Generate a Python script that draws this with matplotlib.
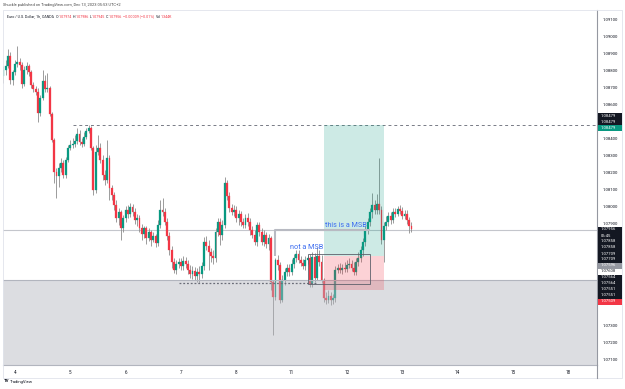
import matplotlib
matplotlib.use('Agg')
import matplotlib.pyplot as plt
from matplotlib.patches import Rectangle

plt.rcParams['font.family'] = ['Roboto', 'DejaVu Sans']

# ---------------- data (EUR/USD 1h, OANDA) ----------------
first_bar = -5          # bar index of first candle (0 = Dec 4 00:00)
first_open = 1.08767
close = [1.08802, 1.08826, 1.08885, 1.08743, 1.08790, 1.08837, 1.08849, 1.08832, 1.08719, 1.08802,
         1.08826, 1.08790, 1.08714, 1.08690, 1.08673, 1.08549, 1.08638, 1.08737, 1.08690, 1.08696,
         1.08543, 1.08391, 1.08202, 1.08179, 1.08226, 1.08255, 1.08185, 1.08273, 1.08344, 1.08362,
         1.08367, 1.08385, 1.08425, 1.08379, 1.08367, 1.08408, 1.08443, 1.08461, 1.08344, 1.08096,
         1.08320, 1.08344, 1.08273, 1.08185, 1.08155, 1.08285, 1.08108, 1.08067, 1.08009, 1.07932,
         1.07967, 1.07873, 1.07932, 1.07979, 1.07955, 1.07997, 1.07967, 1.07920, 1.07932, 1.07873,
         1.07837, 1.07873, 1.07814, 1.07849, 1.07802, 1.07826, 1.07784, 1.07891, 1.07979, 1.07967,
         1.07908, 1.07826, 1.07744, 1.07673, 1.07626, 1.07661, 1.07673, 1.07650, 1.07679, 1.07661,
         1.07626, 1.07602, 1.07620, 1.07591, 1.07614, 1.07602, 1.07650, 1.07790, 1.07767, 1.07732,
         1.07708, 1.07697, 1.07849, 1.07908, 1.07832, 1.07891, 1.08137, 1.08061, 1.07991, 1.07967,
         1.07979, 1.07932, 1.07955, 1.07908, 1.07891, 1.07932, 1.07908, 1.07861, 1.07832, 1.07790,
         1.07891, 1.07849, 1.07790, 1.07832, 1.07779, 1.07814, 1.07555, 1.07467, 1.07685, 1.07655,
         1.07449, 1.07567, 1.07614, 1.07638, 1.07614, 1.07661, 1.07697, 1.07720, 1.07685, 1.07667,
         1.07650, 1.07685, 1.07697, 1.07543, 1.07702, 1.07579, 1.07708, 1.07673, 1.07567, 1.07461,
         1.07449, 1.07473, 1.07449, 1.07461, 1.07626, 1.07638, 1.07626, 1.07638, 1.07632, 1.07655,
         1.07661, 1.07638, 1.07614, 1.07673, 1.07697, 1.07744, 1.07790, 1.07861, 1.07908, 1.07967,
         1.08009, 1.07979, 1.08014, 1.07979, 1.07802, 1.07885, 1.07908, 1.07944, 1.07920, 1.07967,
         1.07955, 1.07985, 1.07973, 1.07944, 1.07955, 1.07920, 1.07885, 1.07867]
high = [1.08826, 1.08861, 1.08926, 1.08908, 1.08802, 1.08861, 1.08944, 1.08873, 1.08849, 1.08826,
        1.08849, 1.08837, 1.08802, 1.08731, 1.08708, 1.08696, 1.08656, 1.08802, 1.08773, 1.08784,
        1.08708, 1.08555, 1.08402, 1.08226, 1.08255, 1.08285, 1.08273, 1.08291, 1.08362, 1.08391,
        1.08402, 1.08420, 1.08461, 1.08449, 1.08402, 1.08437, 1.08461, 1.08479, 1.08470, 1.08356,
        1.08362, 1.08420, 1.08373, 1.08303, 1.08214, 1.08391, 1.08303, 1.08126, 1.08084, 1.08038,
        1.07991, 1.07979, 1.07950, 1.08003, 1.08009, 1.08020, 1.08014, 1.07991, 1.07955, 1.07950,
        1.07897, 1.07885, 1.07885, 1.07873, 1.07861, 1.07849, 1.07837, 1.07920, 1.08038, 1.08049,
        1.07991, 1.07932, 1.07849, 1.07767, 1.07697, 1.07685, 1.07697, 1.07697, 1.07708, 1.07702,
        1.07685, 1.07655, 1.07650, 1.07644, 1.07638, 1.07650, 1.07673, 1.07820, 1.07826, 1.07802,
        1.07755, 1.07744, 1.07873, 1.07932, 1.07932, 1.07920, 1.08173, 1.08155, 1.08084, 1.08014,
        1.08009, 1.08003, 1.07979, 1.07973, 1.07932, 1.07955, 1.07961, 1.07932, 1.07885, 1.07861,
        1.07908, 1.07908, 1.07873, 1.07861, 1.07849, 1.07837, 1.07826, 1.07567, 1.07697, 1.07714,
        1.07673, 1.07596, 1.07638, 1.07661, 1.07661, 1.07691, 1.07720, 1.07744, 1.07744, 1.07708,
        1.07691, 1.07708, 1.07714, 1.07720, 1.07732, 1.07726, 1.07761, 1.07744, 1.07714, 1.07579,
        1.07496, 1.07508, 1.07496, 1.07485, 1.07650, 1.07661, 1.07667, 1.07661, 1.07673, 1.07685,
        1.07697, 1.07685, 1.07673, 1.07697, 1.07732, 1.07767, 1.07814, 1.07885, 1.07932, 1.07991,
        1.08079, 1.08038, 1.08073, 1.08285, 1.08003, 1.07908, 1.07944, 1.07967, 1.07967, 1.07991,
        1.07991, 1.08003, 1.08009, 1.07997, 1.07979, 1.07979, 1.07938, 1.07908]
low = [1.08725, 1.08773, 1.08814, 1.08719, 1.08714, 1.08773, 1.08820, 1.08802, 1.08696, 1.08708,
       1.08778, 1.08767, 1.08696, 1.08673, 1.08656, 1.08496, 1.08532, 1.08626, 1.08673, 1.08673,
       1.08532, 1.08379, 1.08137, 1.08049, 1.08114, 1.08202, 1.08167, 1.08167, 1.08261, 1.08332,
       1.08344, 1.08350, 1.08367, 1.08362, 1.08350, 1.08356, 1.08396, 1.08431, 1.08332, 1.08067,
       1.08078, 1.08303, 1.08255, 1.08155, 1.08126, 1.08137, 1.08038, 1.08038, 1.07979, 1.07908,
       1.07891, 1.07802, 1.07849, 1.07908, 1.07932, 1.07938, 1.07944, 1.07897, 1.07885, 1.07849,
       1.07802, 1.07814, 1.07778, 1.07796, 1.07767, 1.07790, 1.07761, 1.07767, 1.07873, 1.07944,
       1.07891, 1.07802, 1.07714, 1.07638, 1.07608, 1.07602, 1.07638, 1.07626, 1.07626, 1.07638,
       1.07602, 1.07579, 1.07573, 1.07567, 1.07555, 1.07549, 1.07579, 1.07626, 1.07744, 1.07626,
       1.07673, 1.07661, 1.07673, 1.07826, 1.07773, 1.07802, 1.07873, 1.08038, 1.07967, 1.07950,
       1.07944, 1.07908, 1.07891, 1.07885, 1.07873, 1.07873, 1.07885, 1.07832, 1.07814, 1.07773,
       1.07767, 1.07826, 1.07773, 1.07767, 1.07755, 1.07744, 1.07508, 1.07244, 1.07449, 1.07626,
       1.07432, 1.07438, 1.07538, 1.07591, 1.07591, 1.07596, 1.07638, 1.07673, 1.07667, 1.07650,
       1.07632, 1.07626, 1.07661, 1.07526, 1.07526, 1.07555, 1.07567, 1.07650, 1.07549, 1.07438,
       1.07426, 1.07432, 1.07420, 1.07426, 1.07438, 1.07608, 1.07608, 1.07602, 1.07614, 1.07614,
       1.07638, 1.07620, 1.07596, 1.07596, 1.07650, 1.07673, 1.07708, 1.07767, 1.07837, 1.07885,
       1.07932, 1.07955, 1.07955, 1.07955, 1.07778, 1.07673, 1.07861, 1.07885, 1.07897, 1.07903,
       1.07938, 1.07944, 1.07955, 1.07926, 1.07926, 1.07897, 1.07843, 1.07849]

day_ticks = [0, 24, 48, 72, 96, 120, 144, 168, 192, 216, 240]
day_labels = ['4', '5', '6', '7', '8', '11', '12', '13', '14', '15', '18']
price_ticks = [1.091, 1.090, 1.089, 1.088, 1.087, 1.086, 1.084, 1.083, 1.082,
               1.081, 1.080, 1.079, 1.073, 1.072, 1.071]

# drawings
target_price = 1.08479
entry_price = 1.07709
stop_price = 1.07509
position_bars = (134, 160)
msb_level = 1.07858
msb_box = (113, 154, 1.07709, 1.07858)
inner_box = (127, 154, 1.07540, 1.07720)
zone_top = 1.07564
swing_low_level = 1.07551
swing_low_bars = (71, 131)
high_line_start = 25
header_title = 'Euro / U.S. Dollar, 1h, OANDA'
header_values = ['1.07974', '1.07986', '1.07945', '1.07956']
change_text = '\u22120.00009 (\u22120.01%)'
volume_text = '1.344K'

# price-scale labels: (rows, background, text colour)
scale_boxes_top = [(['1.08479', '1.08479'], '#131722', 'white'),
                   (['1.08479'], '#089981', 'white')]
scale_boxes_low = [(['1.07956', '06:45'], '#131722', 'white'),
                   (['1.07858', '1.07858'], '#131722', 'white'),
                   (['1.07709', '1.07709'], '#131722', 'white'),
                   (['1.07596'], '#9598a1', 'white'),
                   (['1.07608'], '#ffffff', '#131722'),
                   (['1.07564', '1.07564'], '#131722', 'white'),
                   (['1.07551', '1.07551'], '#131722', 'white'),
                   (['1.07509'], '#f23645', 'white')]

# ---------------- figure ----------------
W, H = 625, 389
fig = plt.figure(figsize=(W / 100, H / 100), dpi=100)
fig.patch.set_facecolor('white')

def fx(px):
    return px / W

def fy(py):
    return 1 - py / H

ax = fig.add_axes([fx(3), fy(365), fx(594), 355 / H])
ax.set_xlim(-5.2, 252.5)
ax.set_ylim(1.07066, 1.09155)
ax.set_facecolor('white')

UP, DOWN, WICK = '#089981', '#f23645', '#8c8c8c'
opens = [first_open] + close[:-1]
xs = list(range(first_bar, first_bar + len(close)))
for x, o, h, l, c in zip(xs, opens, high, low, close):
    col = UP if c >= o else DOWN
    ax.vlines(x, l, h, color=WICK, lw=0.6, zorder=2)
    ax.bar(x, abs(c - o) if abs(c - o) > 0.00002 else 0.00002, bottom=min(o, c),
           width=0.82, color=col, edgecolor=col, lw=0.2, zorder=3)

# drawings
ax.axhspan(1.0700, zone_top, facecolor='#b2b5be', alpha=0.45, lw=0, zorder=4)
ax.axhline(zone_top, color='#b2b5be', lw=0.8, zorder=4)
ax.axhline(msb_level, color='#c4c6cc', lw=0.8, zorder=1)
ax.hlines(target_price, high_line_start, 260, colors='#787b86', lw=0.7,
          linestyles=(0, (3, 3)), zorder=4)
ax.hlines(swing_low_level, swing_low_bars[0], swing_low_bars[1], colors='#6a6d78',
          lw=0.9, linestyles=(0, (1.5, 1.5)), zorder=4)

x0, x1 = position_bars
ax.add_patch(Rectangle((x0, entry_price), x1 - x0, target_price - entry_price,
                       facecolor='#089981', alpha=0.2, lw=0, zorder=5))
ax.add_patch(Rectangle((x0, stop_price), x1 - x0, entry_price - stop_price,
                       facecolor='#f23645', alpha=0.22, lw=0, zorder=5))

bx0, bx1, by0, by1 = msb_box
ax.plot([bx0, bx0, bx1], [by0, by1, by1], color='#b8bac2', lw=1.5, zorder=5,
        solid_capstyle='butt')
ix0, ix1, iy0, iy1 = inner_box
ax.add_patch(Rectangle((ix0, iy0), ix1 - ix0, iy1 - iy0, fill=False,
                       edgecolor='#5d606b', lw=0.6, zorder=5))

ax.text(134.5, 1.07884, 'this is a MSB', color='#3b6cf0', fontsize=5.2,
        va='center', ha='left', zorder=6)
ax.text(119.5, 1.07756, 'not a MSB', color='#3b6cf0', fontsize=5.2,
        va='center', ha='left', zorder=6)

# axes styling
for s in ['top', 'left']:
    ax.spines[s].set_visible(False)
ax.spines['right'].set_color('#9598a1')
ax.spines['right'].set_linewidth(0.8)
ax.spines['bottom'].set_color('#b2b5be')
ax.spines['bottom'].set_linewidth(0.8)
ax.yaxis.tick_right()
ax.set_yticks(price_ticks)
ax.set_yticklabels([f'{p:.5f}' for p in price_ticks])
ax.set_xticks(day_ticks)
ax.set_xticklabels(day_labels)
ax.tick_params(axis='y', length=0, pad=4, labelsize=3.1, labelcolor='#131722')
ax.tick_params(axis='x', length=0, pad=3.5, labelsize=3.3, labelcolor='#131722')

# vertical separator continuing below axis, frame
fig.add_artist(plt.Line2D([fx(597), fx(597)], [fy(365), fy(378)], color='#9598a1',
                          lw=0.8, transform=fig.transFigure))
fig.add_artist(Rectangle((fx(3), fy(378)), fx(619), (378 - 10) / H, fill=False,
                         edgecolor='#e0e3eb', lw=0.6, transform=fig.transFigure))

# price scale boxes
def draw_boxes(boxes, ytop, row_h):
    y = ytop
    for rows, bg, fg in boxes:
        hgt = row_h * len(rows)
        fig.add_artist(Rectangle((fx(598), fy(y + hgt)), fx(24), hgt / H,
                                 facecolor=bg, edgecolor='none', transform=fig.transFigure,
                                 zorder=10))
        for i, r in enumerate(rows):
            fig.text(fx(601), fy(y + row_h * (i + 0.5)), r, color=fg, fontsize=3.0,
                     va='center', ha='left', zorder=11)
        y += hgt

draw_boxes(scale_boxes_top, 112.5, 6.2)
draw_boxes(scale_boxes_low, 226.5, 6.0)

# header
fig.text(fx(3), fy(5), 'Shuckle published on TradingView.com, Dec 13, 2023 05:53 UTC+2',
         fontsize=2.9, color='#4a4a4a', va='center', ha='left')

renderer = fig.canvas.get_renderer()
hy = fy(16.5)
segs = [(header_title, '#131722', 1.8),
        ('O', '#131722', 0.0), (header_values[0], DOWN, 1.2),
        ('H', '#131722', 0.0), (header_values[1], DOWN, 1.2),
        ('L', '#131722', 0.0), (header_values[2], DOWN, 1.2),
        ('C', '#131722', 0.0), (header_values[3], DOWN, 1.2),
        (change_text, DOWN, 1.8), ('Vol', '#131722', 0.0), (volume_text, DOWN, 0.0)]
cur = 7.0
for t, c, gap in segs:
    txt = fig.text(fx(cur), hy, t, fontsize=2.6, color=c, va='center', ha='left')
    bb = txt.get_window_extent(renderer=renderer)
    cur += bb.width + gap

fig.text(fx(4), fy(381.5), 'TV', fontsize=3.2, color='#131722', weight='bold',
         va='center', ha='left')
fig.text(fx(10), fy(381.5), 'TradingView', fontsize=3.0, color='#131722',
         va='center', ha='left')

fig.savefig('out.png', dpi=100)
